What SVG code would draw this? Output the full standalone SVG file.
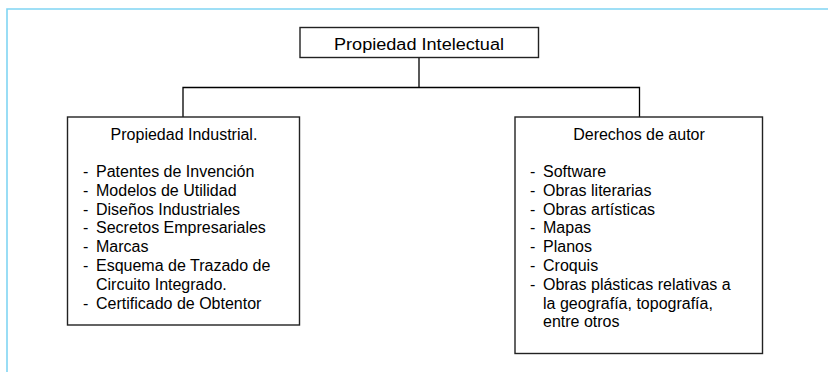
<svg xmlns="http://www.w3.org/2000/svg" width="828" height="372" viewBox="0 0 828 372">
<style>
.box{fill:#fff;stroke:#222;stroke-width:1.4}
.con{fill:none;stroke:#000;stroke-width:1.3}
.t{font-family:"Liberation Sans",Arial,sans-serif;font-size:16px;fill:#000}
.c{text-anchor:middle}
</style>
<rect width="828" height="372" fill="#fff"/>
<g id="frame"><path d="M7,372 V9 H828" fill="none" stroke="#80d5f3" stroke-width="1.6"/></g>
<g id="connectors">
<path class="con" d="M419,57.5 V87.5 M183,117 V87.5 H639.5 V117"/>
</g>
<g id="root">
<rect class="box" x="300" y="27.5" width="238.5" height="30"/>
<text class="t c" x="419" y="50" textLength="170" lengthAdjust="spacingAndGlyphs">Propiedad Intelectual</text>
</g>
<g id="industrial">
<rect class="box" x="67.5" y="117" width="232" height="208"/>
<text class="t c" x="184" y="140">Propiedad Industrial.</text>
<text class="t" x="83" y="177">-</text><text class="t" x="96" y="177">Patentes de Invención</text>
<text class="t" x="83" y="195.8">-</text><text class="t" x="96" y="195.8">Modelos de Utilidad</text>
<text class="t" x="83" y="214.6">-</text><text class="t" x="96" y="214.6">Diseños Industriales</text>
<text class="t" x="83" y="233.4">-</text><text class="t" x="96" y="233.4">Secretos Empresariales</text>
<text class="t" x="83" y="252.2">-</text><text class="t" x="96" y="252.2">Marcas</text>
<text class="t" x="83" y="271">-</text><text class="t" x="96" y="271">Esquema de Trazado de</text>
<text class="t" x="96" y="289.8">Circuito Integrado.</text>
<text class="t" x="83" y="308.6">-</text><text class="t" x="96" y="308.6">Certificado de Obtentor</text>
</g>
<g id="autor">
<rect class="box" x="515" y="117" width="247.5" height="236.5"/>
<text class="t c" x="639" y="140">Derechos de autor</text>
<text class="t" x="530" y="177">-</text><text class="t" x="543" y="177">Software</text>
<text class="t" x="530" y="195.8">-</text><text class="t" x="543" y="195.8">Obras literarias</text>
<text class="t" x="530" y="214.6">-</text><text class="t" x="543" y="214.6">Obras artísticas</text>
<text class="t" x="530" y="233.4">-</text><text class="t" x="543" y="233.4">Mapas</text>
<text class="t" x="530" y="252.2">-</text><text class="t" x="543" y="252.2">Planos</text>
<text class="t" x="530" y="271">-</text><text class="t" x="543" y="271">Croquis</text>
<text class="t" x="530" y="289.8">-</text><text class="t" x="543" y="289.8">Obras plásticas relativas a</text>
<text class="t" x="543" y="308.6">la geografía, topografía,</text>
<text class="t" x="543" y="327.4">entre otros</text>
</g>
</svg>
